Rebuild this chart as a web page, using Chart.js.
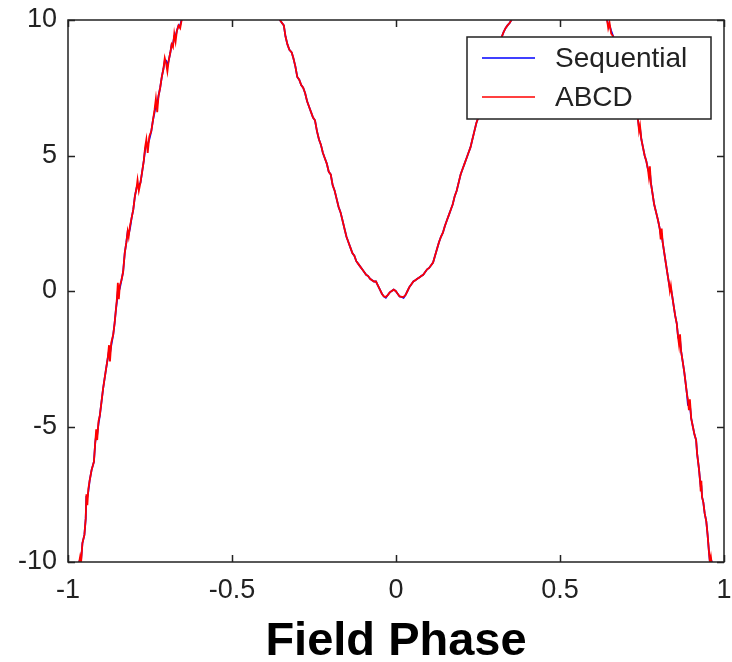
<!DOCTYPE html>
<html lang="en">
<head>
<meta charset="UTF-8">
<title>Field Phase</title>
<script src="https://cdn.jsdelivr.net/npm/chart.js"></script>
<style>
    body { margin: 0; background: #fff; }
    #wrap { width: 732px; height: 662px; }
</style>
</head>
<body>
<div id="wrap"><canvas id="chart" width="732" height="662"></canvas></div>
<script>
    // field phase (x) shared by both curves
    const phase = [
        -0.972,-0.966,-0.963,-0.960,-0.956,-0.950,-0.946,-0.944,-0.941,-0.938,
        -0.934,-0.928,-0.921,-0.917,-0.914,-0.911,-0.907,-0.903,-0.898,-0.893,
        -0.888,-0.883,-0.879,-0.875,-0.872,-0.868,-0.862,-0.858,-0.854,-0.851,
        -0.848,-0.845,-0.842,-0.837,-0.832,-0.827,-0.822,-0.818,-0.815,-0.811,
        -0.806,-0.801,-0.796,-0.791,-0.788,-0.784,-0.779,-0.774,-0.769,-0.765,
        -0.761,-0.757,-0.752,-0.746,-0.741,-0.736,-0.732,-0.728,-0.724,-0.719,
        -0.714,-0.709,-0.705,-0.701,-0.697,-0.693,-0.688,-0.684,-0.680,-0.676,
        -0.672,-0.668,-0.663,-0.658,-0.652,-0.640,-0.500,-0.370,
        // middle dip
        -0.354,-0.348,-0.342,-0.337,-0.331,-0.325,-0.318,-0.313,-0.307,-0.301,
        -0.295,-0.289,-0.283,-0.277,-0.271,-0.265,-0.259,-0.253,-0.247,-0.241,
        -0.235,-0.229,-0.223,-0.217,-0.211,-0.205,-0.199,-0.193,-0.187,-0.181,
        -0.175,-0.169,-0.163,-0.157,-0.151,-0.145,-0.139,-0.133,-0.127,-0.121,
        -0.115,-0.109,-0.103,-0.097,-0.091,-0.085,-0.079,-0.073,-0.067,-0.061,
        -0.055,-0.049,-0.043,-0.037,-0.031,-0.025,-0.019,-0.013,-0.007,-0.001,
        0.005,0.011,0.017,0.023,0.029,0.035,0.041,0.047,0.053,0.059,
        0.065,0.071,0.077,0.083,0.089,0.095,0.101,0.107,0.113,0.119,
        0.125,0.131,0.137,0.143,0.149,0.155,0.161,0.167,0.173,0.179,
        0.185,0.191,0.197,0.203,0.209,0.215,0.221,0.227,0.233,0.239,
        0.245,0.251,0.260,0.270,0.280,0.290,0.300,0.310,0.320,0.328,
        0.334,0.340,0.347,0.354,0.370,0.500,0.630,
        // right branch
        0.643,0.647,0.651,0.656,0.662,0.668,0.673,0.678,0.683,0.689,
        0.694,0.699,0.705,0.711,0.717,0.722,0.727,0.733,0.738,0.741,
        0.744,0.748,0.753,0.758,0.763,0.768,0.771,0.774,0.777,0.782,
        0.787,0.793,0.799,0.804,0.807,0.810,0.813,0.818,0.823,0.828,
        0.832,0.835,0.838,0.841,0.846,0.851,0.856,0.860,0.863,0.866,
        0.869,0.874,0.879,0.883,0.887,0.890,0.893,0.896,0.900,0.905,
        0.910,0.915,0.918,0.921,0.924,0.927,0.929,0.931,0.933,0.937,
        0.941,0.946,0.950,0.954,0.957,0.960,0.963,0.970
    ];

    const sequential = [
        -10.8,-10.0,-9.9,-9.9,-9.3,-9.0,-8.4,-7.6,-7.6,-7.4,
        -7.0,-6.6,-6.3,-5.6,-5.3,-5.3,-4.9,-4.6,-4.1,-3.6,
        -3.2,-2.8,-2.5,-2.2,-2.3,-2.0,-1.6,-1.2,-0.7,-0.4,
        0.0,0.0,0.1,0.4,0.7,1.4,1.8,2.2,2.1,2.3,
        2.7,3.0,3.5,3.8,3.9,3.9,4.0,4.4,4.8,5.2,
        5.4,5.4,5.6,5.9,6.3,6.6,6.9,6.9,7.2,7.5,
        7.9,8.2,8.5,8.5,8.3,8.5,8.8,9.1,9.1,9.4,
        9.4,9.6,9.8,9.8,10.1,10.6,11.5,10.6,
        10.0,9.9,9.8,9.4,9.1,8.9,8.8,8.6,8.3,7.9,
        7.8,7.6,7.5,7.3,7.0,6.8,6.6,6.4,6.3,5.9,
        5.6,5.4,5.1,4.9,4.7,4.4,4.3,3.9,3.7,3.4,
        3.1,2.9,2.6,2.3,2.0,1.8,1.6,1.4,1.3,1.1,
        1.0,0.9,0.8,0.7,0.6,0.55,0.45,0.4,0.35,0.35,
        0.2,0.05,-0.1,-0.2,-0.25,-0.15,-0.05,0.0,0.05,0.0,
        -0.1,-0.2,-0.22,-0.25,-0.15,0.0,0.15,0.25,0.35,0.4,
        0.45,0.5,0.55,0.6,0.7,0.8,0.85,0.95,1.05,1.3,
        1.55,1.8,2.0,2.15,2.4,2.6,2.8,3.0,3.2,3.5,
        3.7,4.0,4.3,4.5,4.7,4.9,5.1,5.3,5.6,5.9,
        6.2,6.4,6.9,7.4,7.8,8.2,8.6,8.95,9.3,9.55,
        9.7,9.8,9.9,10.05,10.6,11.5,10.6,
        10.05,9.8,9.8,9.6,9.4,9.1,8.8,8.8,8.5,8.2,
        8.2,7.9,7.6,7.3,7.0,7.0,6.8,6.6,6.3,6.0,
        6.0,5.6,5.3,5.0,4.8,4.5,4.4,4.4,4.0,3.6,
        3.2,2.9,2.6,2.3,2.1,2.1,1.8,1.4,1.0,0.6,
        0.3,0.1,0.1,-0.1,-0.5,-0.9,-1.2,-1.7,-1.8,-1.8,
        -2.2,-2.6,-3.0,-3.4,-3.8,-4.2,-4.2,-4.2,-4.7,-5.0,
        -5.3,-5.5,-6.0,-6.3,-6.6,-7.0,-7.2,-7.2,-7.6,-7.8,
        -8.2,-8.5,-9.0,-9.6,-10.0,-9.9,-10.0,-10.8
    ];

    const abcd = [
        -10.8,-10.0,-9.8,-10.0,-9.3,-9.0,-8.4,-7.5,-7.9,-7.3,
        -7.0,-6.6,-6.3,-5.6,-5.1,-5.5,-4.8,-4.6,-4.1,-3.6,
        -3.2,-2.8,-2.5,-2.0,-2.6,-1.9,-1.6,-1.2,-0.7,-0.3,
        0.3,-0.3,0.2,0.4,0.7,1.4,1.8,2.2,2.0,2.4,
        2.7,3.0,3.5,3.8,4.1,3.7,4.0,4.4,4.8,5.3,
        5.6,5.1,5.7,5.9,6.3,6.7,7.1,6.6,7.2,7.5,
        7.9,8.2,8.6,8.4,8.1,8.5,8.8,9.1,9.0,9.5,
        9.2,9.6,9.8,9.7,10.1,10.6,11.5,10.6,
        10.0,9.9,9.8,9.4,9.1,8.9,8.8,8.6,8.3,7.9,
        7.8,7.6,7.5,7.3,7.0,6.8,6.6,6.4,6.3,5.9,
        5.6,5.4,5.1,4.9,4.7,4.4,4.3,3.9,3.7,3.4,
        3.1,2.9,2.6,2.3,2.0,1.8,1.6,1.4,1.3,1.1,
        1.0,0.9,0.8,0.7,0.6,0.55,0.45,0.4,0.35,0.35,
        0.2,0.05,-0.1,-0.2,-0.22,-0.15,-0.05,0.0,0.05,0.0,
        -0.1,-0.2,-0.22,-0.22,-0.15,0.0,0.15,0.25,0.35,0.4,
        0.45,0.5,0.55,0.6,0.7,0.8,0.85,0.95,1.05,1.3,
        1.55,1.8,2.0,2.15,2.4,2.6,2.8,3.0,3.2,3.5,
        3.7,4.0,4.3,4.5,4.7,4.9,5.1,5.3,5.6,5.9,
        6.2,6.4,6.9,7.4,7.8,8.2,8.6,8.95,9.3,9.55,
        9.7,9.8,9.9,10.05,10.6,11.5,10.6,
        10.05,9.7,9.9,9.5,9.4,9.1,8.8,8.9,8.5,8.2,
        8.3,7.9,7.6,7.3,7.0,7.1,6.8,6.6,6.3,5.9,
        6.1,5.6,5.3,5.0,4.8,4.5,4.2,4.6,4.0,3.6,
        3.2,2.9,2.6,2.3,1.9,2.3,1.8,1.4,1.0,0.6,
        0.3,0.0,0.2,-0.1,-0.5,-0.9,-1.2,-1.7,-2.0,-1.6,
        -2.2,-2.6,-3.0,-3.4,-3.8,-4.0,-4.4,-4.0,-4.7,-5.0,
        -5.3,-5.5,-6.0,-6.3,-6.6,-7.0,-7.4,-7.0,-7.6,-7.8,
        -8.2,-8.5,-9.0,-9.6,-10.0,-9.8,-10.1,-10.8
    ];

    const seriesNames = ['Sequential', 'ABCD'];
    const xTicks = [-1, -0.5, 0, 0.5, 1];
    const yTicks = [-10, -5, 0, 5, 10];

    const toPoints = ys => phase.map((x, i) => ({ x: x, y: ys[i] }));

    // matlab style box with inward ticks on all four sides
    const framePlugin = {
        id: 'frame',
        afterDatasetsDraw(chart) {
            const { ctx, chartArea: a, scales } = chart;
            const len = 7;
            ctx.save();
            ctx.strokeStyle = '#222';
            ctx.lineWidth = 1.5;
            ctx.strokeRect(a.left, a.top, a.right - a.left, a.bottom - a.top);
            ctx.beginPath();
            scales.x.ticks.forEach(t => {
                const px = Math.round(scales.x.getPixelForValue(t.value)) + 0.5;
                ctx.moveTo(px, a.bottom); ctx.lineTo(px, a.bottom - len);
                ctx.moveTo(px, a.top); ctx.lineTo(px, a.top + len);
            });
            scales.y.ticks.forEach(t => {
                const py = Math.round(scales.y.getPixelForValue(t.value)) + 0.5;
                ctx.moveTo(a.left, py); ctx.lineTo(a.left + len, py);
                ctx.moveTo(a.right, py); ctx.lineTo(a.right - len, py);
            });
            ctx.stroke();
            ctx.restore();
        },
        afterDraw(chart) {
            // legend box inside the top right corner
            const { ctx, chartArea: a } = chart;
            const bx = a.right - 257, by = a.top + 17, bw = 244, bh = 82;
            ctx.save();
            ctx.fillStyle = '#fff';
            ctx.fillRect(bx, by, bw, bh);
            ctx.strokeStyle = '#222';
            ctx.lineWidth = 1.5;
            ctx.strokeRect(bx, by, bw, bh);
            ctx.font = '28px "Liberation Sans", Arial, sans-serif';
            ctx.textBaseline = 'middle';
            chart.data.datasets.forEach((ds, i) => {
                const ly = by + 21 + i * 39;
                ctx.strokeStyle = ds.borderColor;
                ctx.lineWidth = 1.5;
                ctx.beginPath();
                ctx.moveTo(bx + 15, ly); ctx.lineTo(bx + 68, ly);
                ctx.stroke();
                ctx.fillStyle = '#222';
                ctx.fillText(ds.label, bx + 88, ly + 1);
            });
            ctx.restore();
        }
    };

    const tickFont = { family: '"Liberation Sans", Arial, sans-serif', size: 27 };

    new Chart(document.getElementById('chart'), {
        type: 'line',
        data: {
            datasets: [
                {
                    label: seriesNames[0],
                    data: toPoints(sequential),
                    borderColor: '#0000ff',
                    borderWidth: 1.8,
                    pointRadius: 0,
                    order: 2
                },
                {
                    label: seriesNames[1],
                    data: toPoints(abcd),
                    borderColor: '#ff0000',
                    borderWidth: 1.8,
                    pointRadius: 0,
                    order: 1
                }
            ]
        },
        options: {
            responsive: false,
            animation: false,
            devicePixelRatio: 1,
            layout: { padding: { top: 20, right: 8, left: 0, bottom: 0 } },
            plugins: {
                legend: { display: false },
                tooltip: { enabled: false }
            },
            scales: {
                x: {
                    type: 'linear',
                    min: -1,
                    max: 1,
                    grid: { display: false, drawTicks: false },
                    border: { display: false },
                    afterBuildTicks: s => { s.ticks = xTicks.map(v => ({ value: v })); },
                    afterFit: s => {
                        s.height = 100;
                        s.paddingLeft = 0;
                        s.paddingRight = 0;
                    },
                    ticks: {
                        color: '#222',
                        font: tickFont,
                        padding: 12,
                        maxRotation: 0,
                        callback: v => String(v)
                    },
                    title: {
                        display: true,
                        text: 'Field Phase',
                        color: '#000',
                        font: { family: '"Liberation Sans", Arial, sans-serif', size: 47, weight: 'bold', lineHeight: 1 },
                        padding: { top: 0, bottom: -4 }
                    }
                },
                y: {
                    min: -10,
                    max: 10,
                    grid: { display: false, drawTicks: false },
                    border: { display: false },
                    afterBuildTicks: s => { s.ticks = yTicks.map(v => ({ value: v })); },
                    afterFit: s => {
                        s.width = 68;
                        s.paddingTop = 0;
                        s.paddingBottom = 0;
                    },
                    ticks: {
                        color: '#222',
                        font: tickFont,
                        padding: 11,
                        callback: v => String(v)
                    }
                }
            }
        },
        plugins: [framePlugin]
    });
</script>
</body>
</html>
